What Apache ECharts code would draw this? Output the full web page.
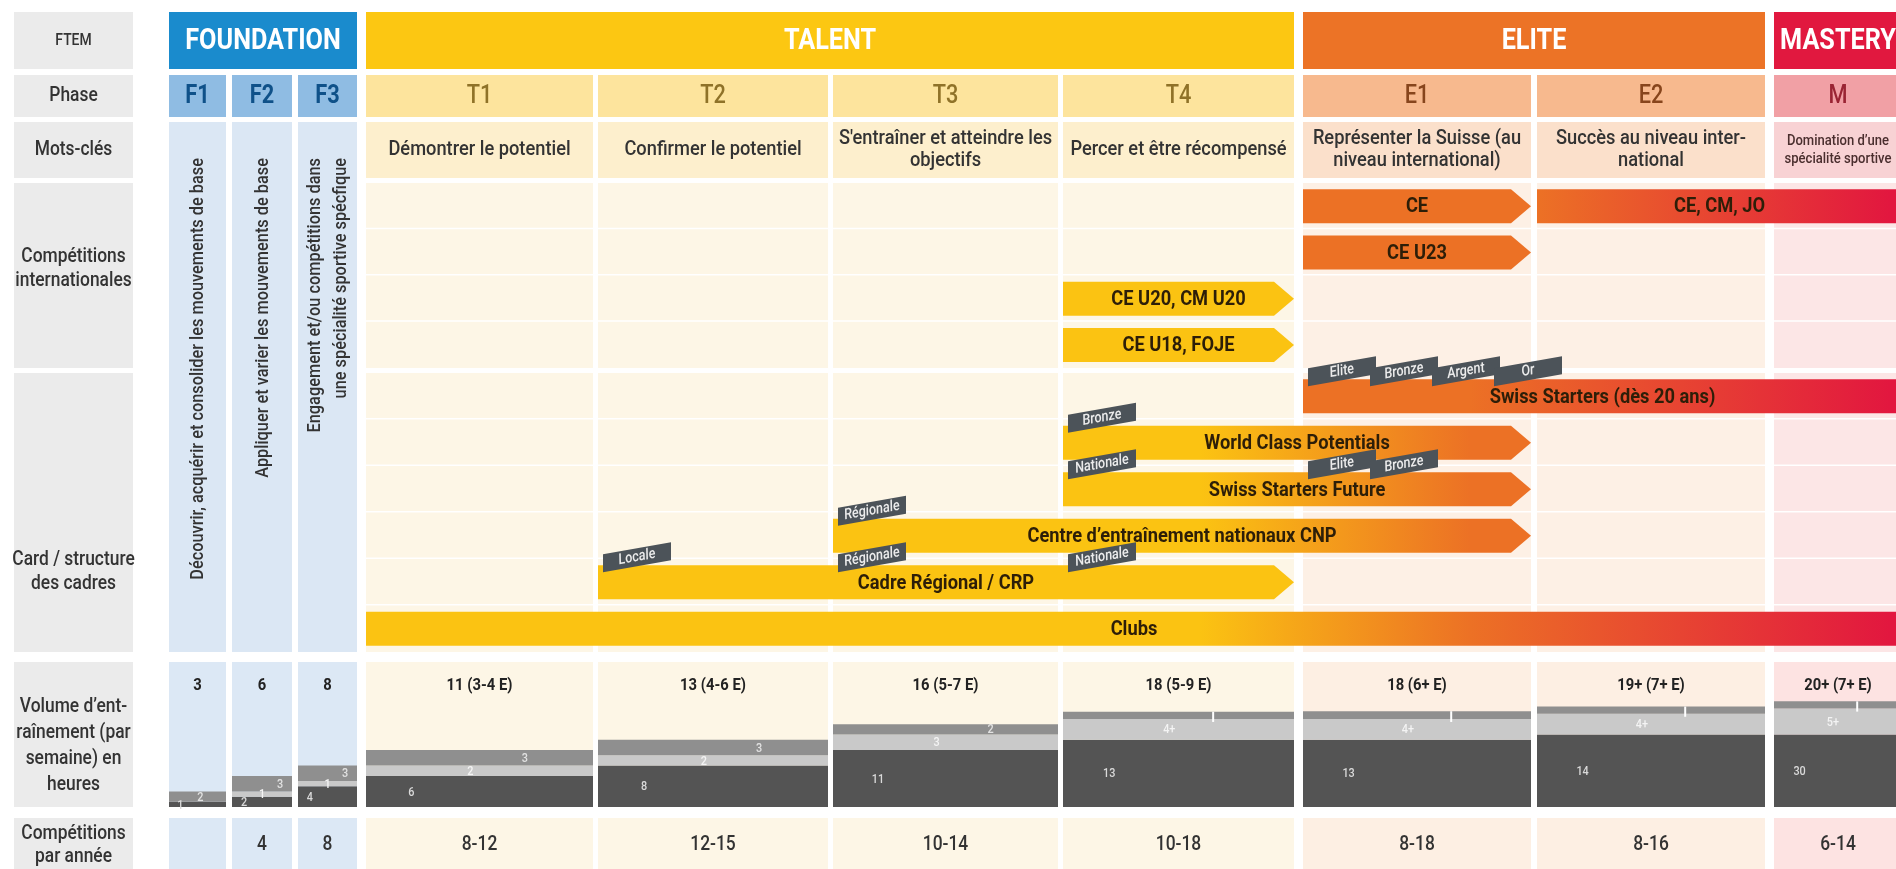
<!DOCTYPE html>
<html>
<head>
<meta charset="utf-8">
<script src="https://cdn.jsdelivr.net/npm/echarts@6/dist/echarts.min.js"></script>
<style>html,body{margin:0;padding:0;background:#fff}#c{width:1896px;height:869px}</style>
</head>
<body>
<div id="c"></div>
<script>
// ================= DATA =================
const groups = ['FOUNDATION', 'TALENT', 'ELITE', 'MASTERY'];
const phases = ['F1', 'F2', 'F3', 'T1', 'T2', 'T3', 'T4', 'E1', 'E2', 'M'];
const phaseGroup = [0, 0, 0, 1, 1, 1, 1, 2, 2, 3];
const rowLabels = ['FTEM', 'Phase', 'Mots-clés', 'Compétitions\ninternationales', 'Card / structure\ndes cadres',
  'Volume d’ent-\nraînement (par\nsemaine) en\nheures', 'Compétitions\npar année'];
const foundationKeywords = ['Découvrir, acquérir et consolider les mouvements de base',
  'Appliquer et varier les mouvements de base',
  'Engagement et/ou compétitions dans\nune spécialité sportive spécfique'];
const keywords = ['Démontrer le potentiel', 'Confirmer le potentiel', "S'entraîner et atteindre les\nobjectifs",
  'Percer et être récompensé', 'Représenter la Suisse (au\nniveau international)', 'Succès au niveau inter-\nnational',
  'Domination d’une\nspécialité sportive'];

// bars (pathway tracks): label, track (0-3 compétitions, 4-9 card/cadres), from phase, to phase, arrow head
const barLabels = ['CE', 'CE, CM, JO', 'CE U23', 'CE U20, CM U20', 'CE U18, FOJE', 'Swiss Starters (dès 20 ans)',
  'World Class Potentials', 'Swiss Starters Future', 'Centre d’entraînement nationaux CNP', 'Cadre Régional / CRP', 'Clubs'];
const barTrack = [0, 0, 1, 2, 3, 4, 5, 6, 7, 8, 9];
const barFrom = ['E1', 'E2', 'E1', 'T4', 'T4', 'E1', 'T4', 'T4', 'T3', 'T2', 'T1'];
const barTo = ['E1', 'M', 'E1', 'T4', 'T4', 'M', 'E1', 'E1', 'E1', 'T4', 'M'];
const barArrow = [true, false, true, true, true, false, true, true, true, true, false];

// card level tags
const tagText = ['Locale', 'Régionale', 'Nationale', 'Régionale', 'Bronze', 'Nationale', 'Elite', 'Bronze', 'Elite', 'Bronze', 'Argent', 'Or'];
const tagBar = [9, 9, 9, 8, 6, 7, 7, 7, 5, 5, 5, 5];
const tagPhase = ['T2', 'T3', 'T4', 'T3', 'T4', 'T4', 'E1', 'E1', 'E1', 'E1', 'E1', 'E1'];
const tagOrder = [0, 0, 0, 0, 0, 0, 0, 1, 0, 1, 2, 3];

// weekly training volume (hours)
const volumeTotals = ['3', '6', '8', '11 (3-4 E)', '13 (4-6 E)', '16 (5-7 E)', '18 (5-9 E)', '18 (6+ E)', '19+ (7+ E)', '20+ (7+ E)'];
const volDark = [1, 2, 4, 6, 8, 11, 13, 13, 14, 14];
const volDarkLabel = ['1', '2', '4', '6', '8', '11', '13', '13', '14', '30'];
const volLight = [0, 1, 1, 2, 2, 3, 4, 4, 4, 5];
const volLightLabel = ['', '1', '1', '2', '2', '3', '4+', '4+', '4+', '5+'];
const volTop = [2, 3, 3, 3, 3, 2, 1.4, 1.5, 1.4, 1.4];
const volTopLabel = ['2', '3', '3', '3', '3', '2', '', '', '', ''];
const volTopSplit = [false, false, false, false, false, false, true, true, true, true];
const compPerYear = ['', '4', '8', '8-12', '12-15', '10-14', '10-18', '8-18', '8-16', '6-14'];

// ================= LAYOUT / STYLE =================
const W = 1896, H = 869, HOURS_MAX = 28;
const L = {
  labelX: [14, 133],
  col: { F1: [169, 226], F2: [232, 292], F3: [298, 357], T1: [366, 593], T2: [598, 828], T3: [833, 1058],
         T4: [1063, 1294], E1: [1303, 1531], E2: [1537, 1765], M: [1774, 1902] },
  row: { ftem: [12, 69], phase: [75, 117], kw: [122, 178], comp: [183, 368], card: [373, 652], vol: [662, 807], year: [818, 872] },
  rowLabelY: { ftem: 40.5, phase: 96, kw: 150, comp: 269, card: 572, vol: 746, year: 845 },
  barH: 34, arrow: 20,
  tagInset: 5, tagPitch: 62, tagW: 68, tagH: 18, tagRise: 12, tagDrop: 7
};
const GC = [
  { head: '#1a8bcd', phase: '#8fbce3', phaseText: '#0f5189', kw: '#dbe7f4', body: '#dbe7f4', vol: '#dce8f5' },
  { head: '#fcc712', phase: '#fde49d', phaseText: '#8f7228', kw: '#fdefcd', body: '#fdf6e6', vol: '#fdf6e6' },
  { head: '#ec7326', phase: '#f7b98e', phaseText: '#87451c', kw: '#fbe0cb', body: '#fdf0e5', vol: '#fdefe3' },
  { head: '#e1183f', phase: '#f1a0a5', phaseText: '#9a2433', kw: '#f8d2d4', body: '#fce6e6', vol: '#fde3e2' }
];
const BAR_COLOR = ['#1a8bcd', '#fbc312', '#ec7125', '#e2173f'];
const COLOR_ANCHOR = [0, 1200, 1470, 1890];
const FONT = 'Roboto, "Noto Sans", sans-serif';
const SX = 0.87;

function makeText(p, text, o) {
  o = o || {};
  return {
    type: 'text', x: p[0], y: p[1], scaleX: o.sx == null ? SX : o.sx, rotation: o.rot || 0, z2: 20,
    style: {
      text: text, fill: o.color || '#333', fontSize: o.size || 20, fontFamily: FONT,
      fontWeight: o.weight || 'normal', fontStyle: o.style || 'normal',
      align: o.align || 'center', verticalAlign: o.va || 'middle', lineHeight: o.lh || Math.round((o.size || 20) * 1.2)
    }
  };
}
function trackY(ti) {
  const sec = ti < 4 ? L.row.comp : L.row.card;
  const n = ti < 4 ? 4 : 6, idx = ti < 4 ? ti : ti - 4;
  const h = (sec[1] - sec[0]) / n;
  return [sec[0] + idx * h, sec[0] + (idx + 1) * h, idx === n - 1];
}
const mid = r => (r[0] + r[1]) / 2;

// ---- cells ----
const cells = [];
['ftem', 'phase', 'kw', 'comp', 'card', 'vol', 'year'].forEach(k => cells.push({ x: L.labelX, y: L.row[k], c: '#ebebeb' }));
groups.forEach((g, gi) => {
  const ph = phases.filter((p, i) => phaseGroup[i] === gi);
  cells.push({ x: [L.col[ph[0]][0], L.col[ph[ph.length - 1]][1]], y: L.row.ftem, c: GC[gi].head });
});
phases.forEach((p, i) => {
  const g = GC[phaseGroup[i]], x = L.col[p];
  cells.push({ x: x, y: L.row.phase, c: g.phase });
  if (phaseGroup[i] === 0) {
    cells.push({ x: x, y: [L.row.kw[0], L.row.card[1]], c: g.body });
  } else {
    cells.push({ x: x, y: L.row.kw, c: g.kw });
    for (let t = 0; t < 10; t++) {
      const tr = trackY(t);
      cells.push({ x: x, y: [tr[0], tr[2] ? tr[1] : tr[1] - 1.5], c: g.body });
    }
  }
  cells.push({ x: x, y: L.row.vol, c: g.vol });
  cells.push({ x: x, y: L.row.year, c: g.vol });
});

// ---- texts ----
const texts = [];
const rowKeys = ['ftem', 'phase', 'kw', 'comp', 'card', 'vol', 'year'];
const rowLabelOpts = [{ size: 16 }, { size: 20 }, { size: 20 }, { size: 20, lh: 24 }, { size: 20, lh: 24 }, { size: 20, lh: 26 }, { size: 20, lh: 23 }];
rowLabels.forEach((t, i) => texts.push({ p: [mid(L.labelX), L.rowLabelY[rowKeys[i]]], t: t,
  o: Object.assign({ color: '#333', weight: '500' }, rowLabelOpts[i]) }));
groups.forEach((g, gi) => {
  const ph = phases.filter((p, i) => phaseGroup[i] === gi);
  texts.push({ p: [(L.col[ph[0]][0] + L.col[ph[ph.length - 1]][1]) / 2, mid(L.row.ftem) + 1], t: g, o: { size: 29, weight: 'bold', color: '#fff' } });
});
phases.forEach((p, i) => {
  const x = mid(L.col[p]), gi = phaseGroup[i];
  texts.push({ p: [x, mid(L.row.phase) + 1], t: p, o: { size: 25, weight: gi === 0 ? 'bold' : '500', color: GC[gi].phaseText } });
  if (gi === 0) {
    texts.push({ p: [x + 1, 158], t: foundationKeywords[i], o: { size: 18.8, rot: Math.PI / 2, align: 'right', lh: 26, color: '#333', weight: '500' } });
  } else {
    const k = keywords[i - 3];
    const small = gi === 3;
    texts.push({ p: [x, mid(L.row.kw)], t: k, o: small ? { size: 15, lh: 18, color: '#4a2e2e', weight: '500' } : { size: 21, lh: 22, color: '#333', weight: '500' } });
  }
  texts.push({ p: [x, 686], t: volumeTotals[i], o: { size: 17, weight: 'bold', color: '#222' } });
  if (compPerYear[i]) texts.push({ p: [x, 845], t: compPerYear[i], o: { size: 20, color: '#333', weight: '500' } });
});

// ---- bars ----
const bars = barLabels.map((lab, i) => ({ label: lab, track: barTrack[i], from: barFrom[i], to: barTo[i], arrow: barArrow[i] }));
function barFill(b, api, px0, px1) {
  const g0 = phaseGroup[phases.indexOf(b.from)], g1 = phaseGroup[phases.indexOf(b.to)];
  if (g0 === g1) return BAR_COLOR[g0];
  const stops = [];
  for (let g = g0; g <= g1; g++) {
    let ax = api.coord([COLOR_ANCHOR[g], 0])[0];
    ax = Math.max(px0, Math.min(px1, ax));
    stops.push({ offset: (ax - px0) / (px1 - px0), color: BAR_COLOR[g] });
  }
  return new echarts.graphic.LinearGradient(px0, 0, px1, 0, stops, true);
}

// ---- tags ----
const tags = tagText.map((t, i) => ({ text: t, bar: tagBar[i], phase: tagPhase[i], order: tagOrder[i] }));

// ---- series helper ----
function customSeries(name, items, render, gi, z) {
  return {
    type: 'custom', name: name, coordinateSystem: 'cartesian2d', xAxisIndex: gi, yAxisIndex: gi, z: z,
    silent: true, clip: false, animation: false,
    data: items.map((_, i) => [i, 0]),
    renderItem: (params, api) => render(items[params.dataIndex], api, params.dataIndex)
  };
}

const chart = echarts.init(document.getElementById('c'), null, { renderer: 'canvas' });
chart.setOption({
  animation: false,
  grid: [
    { left: 0, top: 0, width: W, height: H },
    { left: 0, top: L.row.vol[0], width: W, height: L.row.vol[1] - L.row.vol[0] }
  ],
  xAxis: [
    { type: 'value', gridIndex: 0, min: 0, max: W, show: false },
    { type: 'value', gridIndex: 1, min: 0, max: W, show: false }
  ],
  yAxis: [
    { type: 'value', gridIndex: 0, min: 0, max: H, inverse: true, show: false },
    { type: 'value', gridIndex: 1, min: 0, max: HOURS_MAX, show: false }
  ],
  series: [
    customSeries('cells', cells, (c, api) => {
      const a = api.coord([c.x[0], c.y[0]]), b = api.coord([c.x[1], c.y[1]]);
      return { type: 'rect', shape: { x: a[0], y: a[1], width: b[0] - a[0], height: b[1] - a[1] }, style: { fill: c.c } };
    }, 0, 1),
    customSeries('bars', bars, (b, api) => {
      const tr = trackY(b.track), yc = mid(tr);
      const a = api.coord([L.col[b.from][0], yc - L.barH / 2]), c = api.coord([L.col[b.to][1], yc + L.barH / 2]);
      const x0 = a[0], y0 = a[1], x1 = c[0], y1 = c[1], ym = (y0 + y1) / 2;
      const pts = b.arrow ? [[x0, y0], [x1 - L.arrow, y0], [x1, ym], [x1 - L.arrow, y1], [x0, y1]]
                          : [[x0, y0], [x1, y0], [x1, y1], [x0, y1]];
      return { type: 'group', children: [
        { type: 'polygon', shape: { points: pts }, style: { fill: barFill(b, api, x0, x1) } },
        makeText([(x0 + x1) / 2, ym + 1], b.label, { size: 21, weight: 'bold', color: '#2d1e08' })
      ] };
    }, 0, 2),
    customSeries('tags', tags, (t, api) => {
      const tr = trackY(barTrack[t.bar]), barTop = mid(tr) - L.barH / 2;
      const p = api.coord([L.col[t.phase][0] + L.tagInset + t.order * L.tagPitch, barTop + L.tagDrop]);
      const w = L.tagW, h = L.tagH, r = L.tagRise;
      const pts = [[p[0], p[1]], [p[0], p[1] - h], [p[0] + w, p[1] - h - r], [p[0] + w, p[1] - r]];
      return { type: 'group', children: [
        { type: 'polygon', shape: { points: pts }, style: { fill: '#4c5359' } },
        makeText([p[0] + w / 2, p[1] - h / 2 - r / 2], t.text, { size: 15, style: 'italic', weight: '500', color: '#ececec', rot: Math.atan2(r, w) })
      ] };
    }, 0, 3),
    customSeries('texts', texts, (t, api) => makeText(api.coord(t.p), t.t, t.o), 0, 4),
    customSeries('volume', phases, (p, api, i) => {
      const x = L.col[p], wide = phaseGroup[i] > 0;
      const d = volDark[i], l = volLight[i], tp = volTop[i];
      const segs = [[0, d, '#545454', volDarkLabel[i], 0.2, '#dadada'],
                    [d, d + l, '#c9c9c9', volLightLabel[i], wide ? 0.46 : 0.5, '#f4f4f4'],
                    [d + l, d + l + tp, '#8f8f8f', volTopLabel[i], wide ? 0.7 : (l ? 0.8 : 0.55), '#e2e2e2']];
      const ch = [];
      segs.forEach(s => {
        if (s[1] <= s[0]) return;
        const a = api.coord([x[0], s[1]]), b = api.coord([x[1], s[0]]);
        ch.push({ type: 'rect', shape: { x: a[0], y: a[1], width: b[0] - a[0], height: b[1] - a[1] }, style: { fill: s[2] } });
      });
      segs.forEach(s => {
        if (!s[3] || s[1] <= s[0]) return;
        const c = api.coord([x[0] + s[4] * (x[1] - x[0]), (s[0] + s[1]) / 2]);
        ch.push(makeText([c[0], c[1] + 1], s[3], { size: 12.5, color: s[5], weight: '500' }));
      });
      if (volTopSplit[i]) {
        const a = api.coord([x[0] + 0.65 * (x[1] - x[0]), d + l + tp]), b = api.coord([x[0], d + l]);
        ch.push({ type: 'rect', shape: { x: a[0] - 1, y: a[1], width: 2, height: b[1] - a[1] + 3 }, style: { fill: '#ffffff' } });
      }
      return { type: 'group', children: ch };
    }, 1, 2)
  ]
});
</script>
</body>
</html>
